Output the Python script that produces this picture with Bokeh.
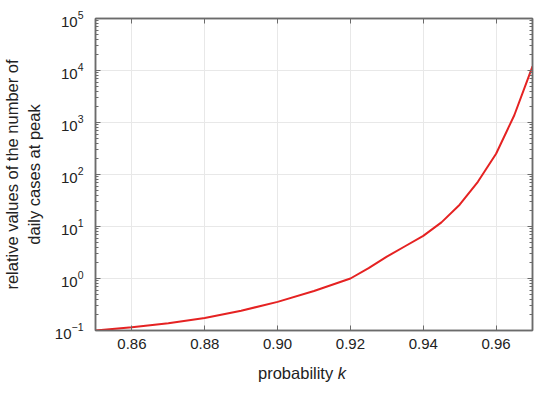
from bokeh.plotting import figure
from bokeh.models import (Range1d, LogAxis, LinearAxis, FixedTicker, Div,
                          NumeralTickFormatter, CustomJSTickFormatter, LogTickFormatter)
from bokeh.layouts import column
from bokeh.embed import file_html
from bokeh.resources import INLINE

# data
k_values = [0.85, 0.86, 0.87, 0.88, 0.89, 0.90, 0.91, 0.92, 0.925, 0.93,
            0.935, 0.94, 0.945, 0.95, 0.955, 0.96, 0.965, 0.97]
peak_rel = [0.1, 0.115, 0.138, 0.174, 0.24, 0.355, 0.575, 1.0, 1.58, 2.63,
            4.17, 6.6, 12.0, 26.3, 72.4, 251.0, 1380.0, 12000.0]
x_ticks = [0.86, 0.88, 0.90, 0.92, 0.94, 0.96]
y_ticks = [0.1, 1, 10, 100, 1000, 10000, 100000]
y_minor = [m * 10.0 ** e for e in range(-1, 5) for m in range(2, 10)]

FONT = "Liberation Sans"
FRAME = "#6b6b6b"
GRID = "#e8e8e8"
TXT = "#222222"

p = figure(width=534, height=357, output_backend="svg", toolbar_location=None,
           y_axis_type="log", x_range=Range1d(0.85, 0.97), y_range=Range1d(0.1, 1e5),
           min_border_left=91, min_border_right=2, min_border_top=18, min_border_bottom=27)
p.outline_line_color = FRAME
p.outline_line_width = 1.5

p.line(k_values, peak_rel, line_color="#e52222", line_width=2)

xa = p.xaxis[0]
xa.ticker = FixedTicker(ticks=x_ticks)
xa.formatter = NumeralTickFormatter(format="0.00")
ya = p.yaxis[0]
ya.ticker = FixedTicker(ticks=y_ticks, minor_ticks=y_minor)
ya.formatter = LogTickFormatter()

for ax in (xa, ya):
    ax.axis_line_color = FRAME
    ax.axis_line_width = 1.5
    ax.major_tick_in = 5
    ax.major_tick_out = 0
    ax.minor_tick_in = 3
    ax.minor_tick_out = 0
    ax.major_tick_line_color = FRAME
    ax.minor_tick_line_color = FRAME
    ax.major_label_text_font = FONT
    ax.major_label_text_font_size = "15px"
    ax.major_label_text_color = TXT
    ax.axis_label_text_font = FONT
    ax.axis_label_text_font_style = "normal"
    ax.axis_label_text_font_size = "16.5px"
    ax.axis_label_text_color = TXT
xa.minor_tick_line_color = None
xa.major_label_standoff = 8
ya.major_label_standoff = 12
ya.axis_label = "relative values of the number of\ndaily cases at peak"
ya.axis_label_standoff = 9

# top and right axes: ticks only
blank = CustomJSTickFormatter(code="return ''")
top = LinearAxis(ticker=FixedTicker(ticks=x_ticks), formatter=blank)
right = LogAxis(ticker=FixedTicker(ticks=y_ticks, minor_ticks=y_minor), formatter=blank)
for ax in (top, right):
    ax.axis_line_color = FRAME
    ax.axis_line_width = 1.5
    ax.major_tick_in = 5
    ax.major_tick_out = 0
    ax.minor_tick_in = 3
    ax.minor_tick_out = 0
    ax.major_tick_line_color = FRAME
    ax.minor_tick_line_color = FRAME
    ax.major_label_standoff = 0
    ax.major_label_text_font_size = "0px"
top.minor_tick_line_color = None
p.add_layout(top, "above")
p.add_layout(right, "right")

p.xgrid.ticker = FixedTicker(ticks=x_ticks)
p.ygrid.ticker = FixedTicker(ticks=y_ticks)
p.xgrid.grid_line_color = GRID
p.ygrid.grid_line_color = GRID

# x axis title with italic k
xlabel = Div(text="probability <i>k</i>", width=534, height=22, margin=0,
             styles={"font-family": FONT, "font-size": "16.5px", "color": TXT,
                     "line-height": "16px", "padding-left": "258px", "padding-top": "8px",
                     "box-sizing": "border-box", "white-space": "nowrap"})

layout = column(p, xlabel, spacing=0)
open("out.html", "w").write(file_html(layout, INLINE))
